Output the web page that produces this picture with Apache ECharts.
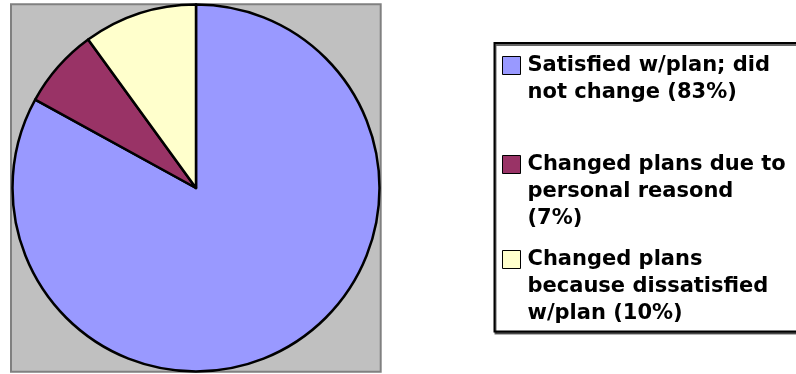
<!DOCTYPE html>
<html>
<head>
<meta charset="utf-8">
<title>Plan satisfaction</title>
<script src="https://cdn.jsdelivr.net/npm/echarts@6/dist/echarts.min.js"></script>
<style>
  html, body { margin: 0; padding: 0; background: #fff; }
  .chart { width: 796px; height: 374px; }
</style>
</head>
<body>
<div class="chart"></div>
<script>
// slice names (line breaks as in the legend) and their shares
var categories = [
  'Satisfied w/plan; did\nnot change (83%)',
  'Changed plans due to\npersonal reasond\n(7%)',
  'Changed plans\nbecause dissatisfied\nw/plan (10%)'
];
var values = [83, 7, 10];
var colors = ['#9999FF', '#993366', '#FFFFCC'];

(function() {
  var myChart = echarts.init(document.querySelector('.chart'));

  var pieData = categories.map(function(name, i) {
    return { name: name, value: values[i], itemStyle: { color: colors[i] } };
  });

  // one legend per entry so each one can sit where Excel put it
  var legendTops = [25, 97, 192];
  var legends = categories.map(function(name, i) {
    return {
      data: [name],
      orient: 'vertical',
      left: 502,
      top: legendTops[i],
      padding: 0,
      icon: 'rect',
      itemWidth: 18,
      itemHeight: 18,
      selectedMode: false,
      itemStyle: { borderColor: '#000', borderWidth: 1 },
      // blank lines on top so the first text line sits level with the box
      formatter: function(n) {
        var extra = n.split('\n').length - 1;
        return new Array(extra + 1).join(' \n') + n;
      },
      textStyle: {
        color: '#000',
        fontFamily: 'DejaVu Sans',
        fontWeight: 'bold',
        fontSize: 21,
        lineHeight: 27,
        padding: [0, 0, 0, 2]
      }
    };
  });

  var option = {
    animation: false,
    legend: legends,
    graphic: [
      {
        // grey plot area
        type: 'rect',
        z: -1,
        shape: { x: 11, y: 4.3, width: 369.7, height: 367.4 },
        style: { fill: '#C0C0C0', stroke: '#808080', lineWidth: 2 }
      },
      {
        // legend frame
        type: 'rect',
        z: -1,
        shape: { x: 494.5, y: 43, width: 320, height: 288.5 },
        style: {
          fill: '#fff', stroke: '#000', lineWidth: 2,
          shadowColor: 'rgba(0,0,0,0.6)', shadowOffsetX: 1, shadowOffsetY: 2, shadowBlur: 0
        }
      }
    ],
    series: [{
      type: 'pie',
      center: [196, 188],
      radius: 183.5,
      startAngle: 90,
      clockwise: true,
      label: { show: false },
      labelLine: { show: false },
      itemStyle: { borderColor: '#000', borderWidth: 2.5 },
      emphasis: { scale: false },
      data: pieData
    }]
  };

  myChart.setOption(option);
  window.addEventListener('resize', function() {
    myChart.resize();
  });
})();
</script>
</body>
</html>
